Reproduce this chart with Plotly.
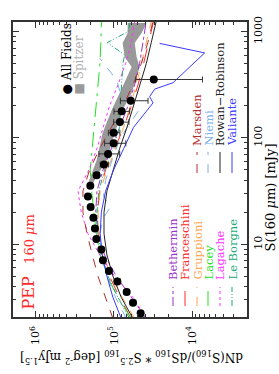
import plotly.graph_objects as go

# ---------------- data ----------------
S_data = [2.24, 2.82, 3.55, 4.47, 5.62, 7.08, 8.91, 11.2, 14.1, 17.8, 22.4, 28.2,
          35.5, 44.7, 56.2, 70.8, 89.1, 112, 141, 178, 224, 355]
V_data = [45600, 57100, 68800, 90500, 115900, 138300, 145000, 168000, 175000, 183000,
          198500, 215000, 200500, 166500, 134000, 119000, 101000, 101000, 83800, 79700,
          61100, 31000]
err_plus = [3500, 4500, 5500, 7000, 9000, 10000, 10000, 11000, 11000, 11000, 12000, 13000,
            13000, 13000, 16000, 36600, 30500, 17000, 17000, 20300, 21700, 21600]
err_minus = [3500, 4500, 5500, 7000, 9000, 10000, 10000, 11000, 11000, 11000, 12000, 13000,
             13000, 13000, 16000, 34500, 30400, 17000, 19500, 16700, 24400, 23600]

spitzer_S = [34.6, 62, 111, 183, 265, 374, 465, 578, 783, 973, 1208]
spitzer_hi = [223000, 166000, 140000, 107000, 84600, 68900, 59400, 72900, 77400, 66800, 66800]
spitzer_lo = [199000, 124000, 98000, 77400, 59400, 51300, 46900, 51300, 54300, 44300, 38200]

S_grid = [2.0, 3.16, 5.01, 7.94, 12.6, 20.0, 31.6, 50.1, 79.4, 126, 200, 316, 501, 794, 1259]
bethermin = [38600, 60000, 93300, 132000, 160000, 171000, 165000, 138000, 108000, 84700,
             66200, 54400, 47000, 42600, 38600]
franceschini = [60000, 84700, 114000, 141000, 159000, 163000, 152000, 128000, 98000, 75200,
                60000, 49300, 41800, 35700, 31100]
gruppioni = [54400, 78200, 108000, 136000, 156000, 160000, 150000, 123000, 95200, 75200,
             61800, 51800, 44700, 38600, 33300]
lacey = [60000, 88900, 123000, 150000, 168000, 180000, 193000, 201000, 189000, 178000,
         168000, 159000, 151000, 147000, 144000]
lagache = [38600, 57100, 98000, 152000, 215000, 262000, 288000, 209000, 165000, 138000,
           114000, 88900, 71000, 60000, 54400]
marsden = [103000, 128000, 160000, 189000, 221000, 249000, 249000, 205000, 152000, 108000,
           76700, 57100, 44700, 36800, 31700]
rowan_robinson = [57100, 80600, 103000, 123000, 134000, 134000, 123000, 103000, 84700, 68200,
                  56100, 46100, 38600, 33300, 28800]

leborgne_S = [2.0, 3.16, 5.01, 7.94, 12.6, 20.0, 31.6, 50.1, 79.4, 126, 200, 316, 501, 604,
              789, 1000, 1245]
leborgne = [63100, 88900, 119000, 145000, 160000, 165000, 156000, 132000, 103000, 84700,
            83000, 80600, 76700, 73100, 122000, 66200, 61800]
niemi_S = [2.0, 3.16, 5.01, 7.94, 12.6, 17.8, 22.4, 28.2, 39.8, 63.1, 100, 141, 178, 251,
           355, 562]
niemi = [69600, 95200, 123000, 145000, 152000, 136000, 111000, 136000, 128000, 105000,
         83000, 61800, 49300, 80600, 93300, 152000]
valiante_S = [2.0, 3.16, 5.01, 7.94, 12.6, 20.0, 31.6, 50.1, 79.4, 126, 178, 214, 245, 288,
              331, 631, 776]
valiante = [80600, 103000, 123000, 141000, 150000, 145000, 128000, 101000, 75200, 56100,
            38600, 31700, 35000, 30200, 17600, 6930, 26100]

x_tick_vals = [1e4, 1e5, 1e6]
x_tick_text = ["10<sup>4</sup>", "10<sup>5</sup>", "10<sup>6</sup>"]
y_tick_vals = [10, 100, 1000]
y_tick_text = ["10", "100", "1000"]

FONT = "DejaVu Serif, serif"

models = [
    ("Bethermin", S_grid, bethermin, "#9a32cd", "dashdot"),
    ("Franceschini", S_grid, franceschini, "#ff2a2a", "longdash"),
    ("Gruppioni", S_grid, gruppioni, "#ffa54f", "dash"),
    ("Lacey", S_grid, lacey, "#22e022", "longdashdot"),
    ("Lagache", S_grid, lagache, "#ff33ff", "dot"),
    ("Le Borgne", leborgne_S, leborgne, "#22aa77", "6px,2px,1px,2px,1px,2px"),
    ("Marsden", S_grid, marsden, "#b03030", "dash"),
    ("Niemi", niemi_S, niemi, "#80b0e8", "dash"),
    ("Rowan\u2212Robinson", S_grid, rowan_robinson, "#222222", "solid"),
    ("Valiante", valiante_S, valiante, "#3a3aff", "solid"),
]

fig = go.Figure()

# Spitzer band
fig.add_trace(go.Scatter(
    x=spitzer_hi + spitzer_lo[::-1], y=spitzer_S + spitzer_S[::-1],
    fill="toself", fillcolor="#999999", line=dict(width=0), mode="lines",
    hoverinfo="skip"))

for name, s, v, col, dash in models:
    fig.add_trace(go.Scatter(x=v, y=s, mode="lines", name=name,
                             line=dict(color=col, width=1, dash=dash)))

fig.add_trace(go.Scatter(
    x=V_data, y=S_data, mode="markers", name="All Fields",
    marker=dict(color="black", size=8),
    error_x=dict(type="data", symmetric=False, array=err_plus, arrayminus=err_minus,
                 color="#333333", thickness=1, width=3)))

# ---------------- layout helpers ----------------
L, R, T, B = 13, 32, 22, 57
W, H = 279, 374
PW, PH = W - L - R, H - T - B


def px(x):
    return (x - L) / PW


def py(y):
    return (H - B - y) / PH


annotations = []
shapes = []

col1 = [("Bethermin", 173), ("Franceschini", 185), ("Gruppioni", 197),
        ("Lacey", 208), ("Lagache", 220), ("Le Borgne", 232)]
col2 = [("Marsden", 197), ("Niemi", 208), ("Rowan\u2212Robinson", 220), ("Valiante", 232)]
style = {m[0]: (m[3], m[4]) for m in models}

for entries, y_line0, y_line1, y_text in [(col1, 306, 287, 282), (col2, 173, 152, 148)]:
    for name, xp in entries:
        col, dash = style[name]
        shapes.append(dict(type="line", xref="paper", yref="paper",
                           x0=px(xp), x1=px(xp), y0=py(y_line0), y1=py(y_line1),
                           line=dict(color=col, width=1, dash=dash)))
        annotations.append(dict(text=name, xref="paper", yref="paper", x=px(xp),
                                y=py(y_text), xanchor="center", yanchor="bottom",
                                textangle=-90, showarrow=False,
                                font=dict(family=FONT, size=11.5, color=col)))

annotations.append(dict(text="<span style='font-size:16px'>PEP</span>   160 <i>\u03bc</i>m",
                        xref="paper", yref="paper", x=px(28), y=py(312),
                        xanchor="center", yanchor="bottom", textangle=-90, showarrow=False,
                        font=dict(family=FONT, size=13, color="#ff2a2a")))
annotations.append(dict(text="\u25cf All Fields", xref="paper", yref="paper", x=px(66),
                        y=py(97), xanchor="center", yanchor="bottom", textangle=-90,
                        showarrow=False, font=dict(family=FONT, size=12, color="black")))
annotations.append(dict(text="<span style='color:#999999'>\u25a0</span> Spitzer",
                        xref="paper", yref="paper", x=px(78),
                        y=py(97), xanchor="center", yanchor="bottom", textangle=-90,
                        showarrow=False, font=dict(family=FONT, size=12, color="#b0b0b0")))
annotations.append(dict(text="S(160 <i>\u03bc</i>m) [mJy]", xref="paper", yref="paper",
                        x=px(270.5), y=py(198), xanchor="center", yanchor="middle",
                        textangle=-90, showarrow=False,
                        font=dict(family=FONT, size=13, color="black")))
annotations.append(dict(
    text="dN(S<sub>160</sub>)/dS<sub>160</sub> * S<sup>2.5</sup><sub>160</sub> "
         "[deg<sup>-2</sup> mJy<sup>1.5</sup>]",
    xref="paper", yref="paper", x=px(132), y=py(357), xanchor="center", yanchor="middle",
    textangle=180, showarrow=False, font=dict(family=FONT, size=12, color="black")))

x_minor = [k * 10 ** e for e in (3, 4, 5) for k in range(2, 10) if 1995 < k * 10 ** e < 1.9e6]
y_minor = [k * 10 ** e for e in (0, 1, 2) for k in range(2, 10) if 2.1 < k * 10 ** e < 1230]

axis_common = dict(type="log", showgrid=False, zeroline=False, showline=True,
                   linecolor="#333333", linewidth=1.5, mirror="allticks",
                   ticks="inside", ticklen=6, tickcolor="#333333", tickwidth=1,
                   tickfont=dict(family=FONT, size=11, color="black"), tickangle=-90)

fig.update_layout(
    width=W, height=H, margin=dict(l=L, r=R, t=T, b=B),
    paper_bgcolor="white", plot_bgcolor="white", showlegend=False,
    xaxis=dict(range=[6.29, 3.30], tickvals=x_tick_vals, ticktext=x_tick_text,
               minor=dict(tickvals=x_minor, ticks="inside", ticklen=3,
                          tickcolor="#333333"),
               ticklabelstandoff=3, **axis_common),
    yaxis=dict(range=[0.316, 3.091], side="right", tickvals=y_tick_vals,
               ticktext=y_tick_text,
               minor=dict(tickvals=y_minor, ticks="inside", ticklen=3,
                          tickcolor="#333333"),
               ticklabelstandoff=0, **axis_common),
    annotations=annotations, shapes=shapes,
)

fig.write_html("out.html", config={"displayModeBar": False},
               post_script="document.body.style.margin='0';")
